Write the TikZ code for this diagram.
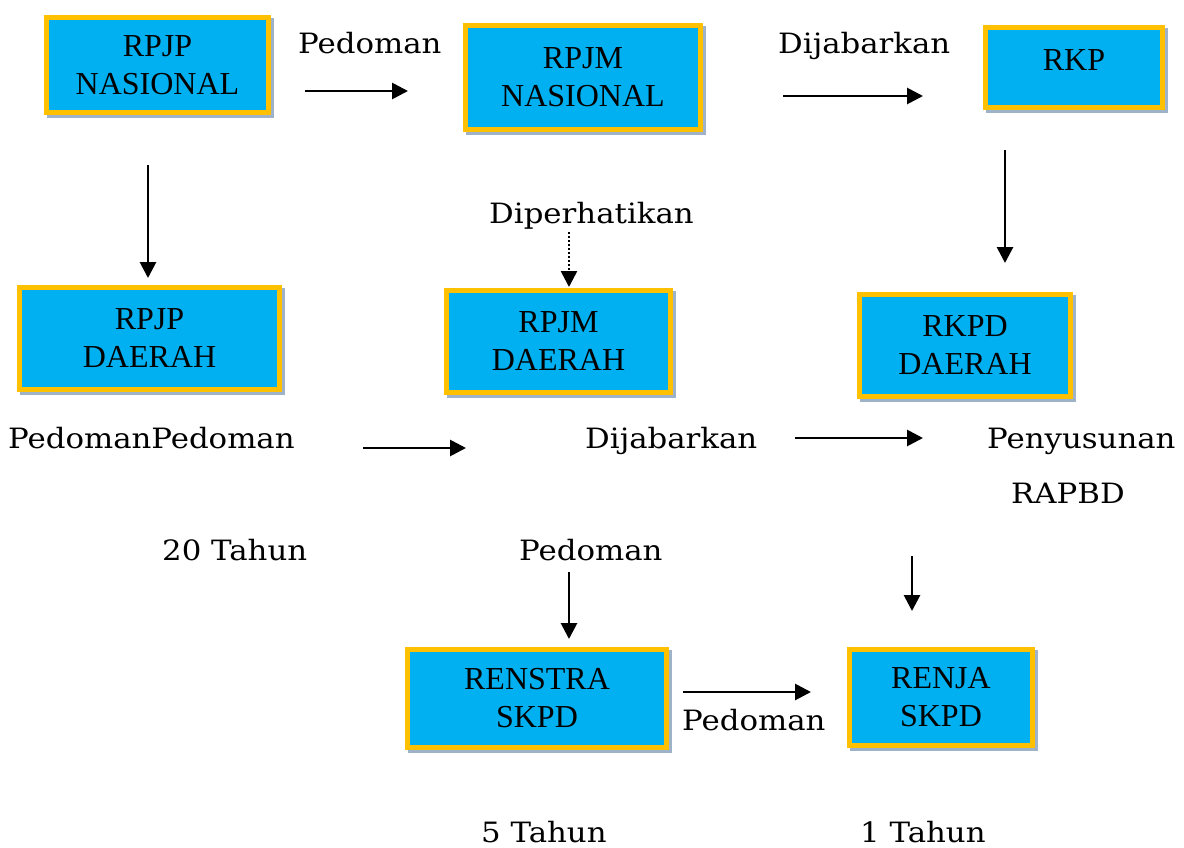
\documentclass[tikz,border=0pt]{standalone}
\usepackage{fontspec}
\setmainfont{Liberation Serif}
\newfontfamily\labfont[FakeStretch=1.1]{DejaVu Serif}
\usetikzlibrary{arrows.meta,shadows}
\definecolor{boxfill}{HTML}{00B0F0}
\definecolor{boxline}{HTML}{FFC000}
\definecolor{boxshadow}{HTML}{9EB3C9}
\tikzset{
  planbox/.style={rectangle, fill=boxfill, draw=boxline, line width=5pt,
    inner sep=0pt, align=center, font=\fontsize{32}{38}\selectfont,
    general shadow={shadow xshift=3pt, shadow yshift=-3pt, fill=boxshadow, draw=boxshadow, line width=5pt}},
  lbl/.style={inner sep=0pt, anchor=base west, text depth=0pt, font=\labfont\fontsize{28}{32}\selectfont},
  conn/.style={line width=2.8pt, -{Triangle[length=16pt,width=16pt]}},
  dotconn/.style={line width=2.6pt, dash pattern=on 2pt off 2pt, -{Triangle[length=16pt,width=16pt]}}
}
\begin{document}
\begin{tikzpicture}[x=1pt,y=-1pt]
\useasboundingbox (0,0) rectangle (1184,847);
% boxes (path = outer edge minus half border)
\node[planbox, minimum width=222pt, minimum height=95pt] (rpjpn) at (157.5,65) {RPJP\\NASIONAL};
\node[planbox, minimum width=235pt, minimum height=104pt] (rpjmn) at (583,77.5) {RPJM\\NASIONAL};
\node[planbox, minimum width=177pt, minimum height=80pt, text depth=14pt] (rkp) at (1074,67.5) {RKP};
\node[planbox, minimum width=260pt, minimum height=102pt] (rpjpd) at (149.5,338.5) {RPJP\\DAERAH};
\node[planbox, minimum width=224pt, minimum height=102pt] (rpjmd) at (558.5,341.5) {RPJM\\DAERAH};
\node[planbox, minimum width=211pt, minimum height=102pt] (rkpd) at (965,345.5) {RKPD\\DAERAH};
\node[planbox, minimum width=259pt, minimum height=98pt] (renstra) at (537,698.5) {RENSTRA\\SKPD};
\node[planbox, minimum width=183pt, minimum height=96pt] (renja) at (941,697.5) {RENJA\\SKPD};
% labels
\node[lbl] (l1) at (298,53) {Pedoman};
\node[lbl] (l2) at (778,53) {Dijabarkan};
\node[lbl] (l3) at (489,223) {Diperhatikan};
\node[lbl] (l4) at (8,448) {PedomanPedoman};
\node[lbl] (l5) at (585,448) {Dijabarkan};
\node[lbl] (l6) at (987,448) {Penyusunan};
\node[lbl] (l7) at (1011,503) {RAPBD};
\node[lbl] (l8) at (162,560) {20 Tahun};
\node[lbl] (l9) at (519,560) {Pedoman};
\node[lbl] (l10) at (682,730) {Pedoman};
\node[lbl] (l11) at (481,842) {5 Tahun};
\node[lbl] (l12) at (860,842) {1 Tahun};
% connector end points
\coordinate (a1s) at (305,91);   \coordinate (a1e) at (408,91);
\coordinate (a2s) at (783,96);   \coordinate (a2e) at (923,96);
\coordinate (a3s) at (148,165);  \coordinate (a3e) at (148,278);
\coordinate (a4s) at (1005,150); \coordinate (a4e) at (1005,263);
\coordinate (a5s) at (569,232);  \coordinate (a5e) at (569,287);
\coordinate (a6s) at (363,448);  \coordinate (a6e) at (466,448);
\coordinate (a7s) at (795,438);  \coordinate (a7e) at (923,438);
\coordinate (a8s) at (569,572);  \coordinate (a8e) at (569,639);
\coordinate (a9s) at (912,556);  \coordinate (a9e) at (912,611);
\coordinate (a10s) at (683,692); \coordinate (a10e) at (811,692);
\draw[conn] (a1s) -- (a1e);
\draw[conn] (a2s) -- (a2e);
\draw[conn] (a3s) -- (a3e);
\draw[conn] (a4s) -- (a4e);
\draw[dotconn] (a5s) -- (a5e);
\draw[conn] (a6s) -- (a6e);
\draw[conn] (a7s) -- (a7e);
\draw[conn] (a8s) -- (a8e);
\draw[conn] (a9s) -- (a9e);
\draw[conn] (a10s) -- (a10e);
\end{tikzpicture}
\end{document}
